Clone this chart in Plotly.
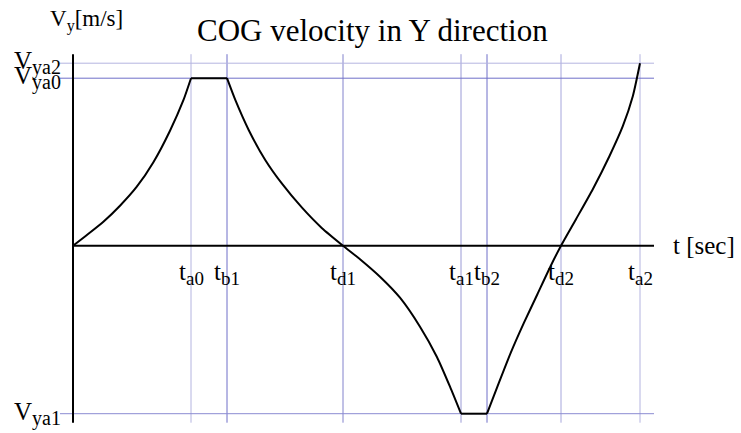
import plotly.graph_objects as go

# Key instants on the time axis [sec]
t_names = ["a0", "b1", "d1", "a1", "b2", "d2", "a2"]
t_keys = [0.59, 0.77, 1.35, 1.94, 2.07, 2.44, 2.835]
t_colors = ["#b4b4e0", "#6e6ec8", "#8282cc", "#9a9ad6", "#6e6ec8", "#a6a6dc", "#b4b4e0"]

# Key velocity levels [m/s]
v_names = ["ya2", "ya0", "ya1"]
v_keys = [0.365, 0.335, -0.336]
v_colors = ["#b4b4e0", "#6e6ec8", "#8c8cd2"]

# COG velocity profile in Y direction
t_vals = [0.0, 0.068, 0.152, 0.235, 0.319, 0.402, 0.485, 0.552, 0.59,
          0.77, 0.812, 0.879, 0.962, 1.045, 1.145, 1.245, 1.35,
          1.435, 1.535, 1.635, 1.735, 1.819, 1.885, 1.94,
          2.07, 2.122, 2.189, 2.255, 2.322, 2.389, 2.44,
          2.515, 2.599, 2.682, 2.749, 2.799, 2.835]
v_vals = [0.0, 0.021, 0.048, 0.080, 0.118, 0.167, 0.230, 0.291, 0.335,
          0.335, 0.291, 0.231, 0.171, 0.124, 0.076, 0.035, 0.0,
          -0.027, -0.062, -0.104, -0.162, -0.222, -0.282, -0.336,
          -0.336, -0.282, -0.214, -0.154, -0.097, -0.040, 0.0,
          0.053, 0.113, 0.179, 0.239, 0.299, 0.365]

T_END = 2.905                  # end of time axis
V_TOP, V_BOT = 0.383, -0.354   # extent of velocity axis
FONT = "Liberation Serif, Times New Roman, serif"


def sub(base, idx, size):
    return f"{base}<sub><span style='font-size:{size}px'>{idx}</span></sub>"


fig = go.Figure()

# guide lines at key instants
for t, c in zip(t_keys, t_colors):
    fig.add_shape(type="line", x0=t, x1=t, y0=V_BOT, y1=V_TOP,
                  line=dict(color=c, width=1), layer="below")
# guide lines at key velocities
for v, c in zip(v_keys, v_colors):
    fig.add_shape(type="line", x0=-0.065, x1=T_END, y0=v, y1=v,
                  line=dict(color=c, width=1), layer="below")

# axes
fig.add_shape(type="line", x0=0, x1=0, y0=V_BOT, y1=V_TOP,
              line=dict(color="black", width=2))
fig.add_shape(type="line", x0=0, x1=T_END, y0=0, y1=0,
              line=dict(color="black", width=2))

# curve: smooth arcs joined by flat segments (split where velocity stays constant)
breaks = [0]
for i in range(1, len(v_vals)):
    if v_vals[i] == v_vals[i - 1]:
        breaks += [i - 1, i]
breaks.append(len(v_vals) - 1)
for k in range(0, len(breaks), 2):
    a, b = breaks[k], breaks[k + 1]
    fig.add_trace(go.Scatter(x=t_vals[a:b + 1], y=v_vals[a:b + 1], mode="lines",
                             line=dict(color="black", width=2, shape="spline", smoothing=0.6),
                             hoverinfo="skip"))
for k in range(1, len(breaks) - 1, 2):
    a, b = breaks[k], breaks[k + 1]
    fig.add_trace(go.Scatter(x=t_vals[a:b + 1], y=v_vals[a:b + 1], mode="lines",
                             line=dict(color="black", width=2), hoverinfo="skip"))

# time labels
for name, t in zip(t_names, t_keys):
    fig.add_annotation(x=t, y=-0.055, text=sub("t", name, 19), showarrow=False,
                       xanchor="center", yanchor="middle",
                       font=dict(family=FONT, size=25, color="black"))
# velocity labels
for name, v in zip(v_names, v_keys):
    fig.add_annotation(x=-0.05, y=v, text=sub("V", name, 20), showarrow=False,
                       xanchor="right", yanchor="middle",
                       font=dict(family=FONT, size=25, color="black"))

fig.add_annotation(x=T_END + 0.085, y=0, text="t [sec]", showarrow=False,
                   xanchor="left", yanchor="middle",
                   font=dict(family=FONT, size=25, color="black"))
fig.add_annotation(x=0.065, y=0.45, text="V<sub>y</sub>[m/s]", showarrow=False,
                   xanchor="center", yanchor="middle",
                   font=dict(family=FONT, size=23, color="black"))
fig.add_annotation(x=1.495, y=0.43, text="COG velocity in Y direction", showarrow=False,
                   xanchor="center", yanchor="middle",
                   font=dict(family=FONT, size=31, color="black"))

fig.update_layout(
    width=741, height=433, autosize=False,
    margin=dict(l=0, r=0, t=0, b=0),
    paper_bgcolor="white", plot_bgcolor="white",
    showlegend=False,
    xaxis=dict(range=[-0.365, 3.34], visible=False, fixedrange=True),
    yaxis=dict(range=[-0.3746, 0.4914], visible=False, fixedrange=True),
)

fig.write_html("out.html")
